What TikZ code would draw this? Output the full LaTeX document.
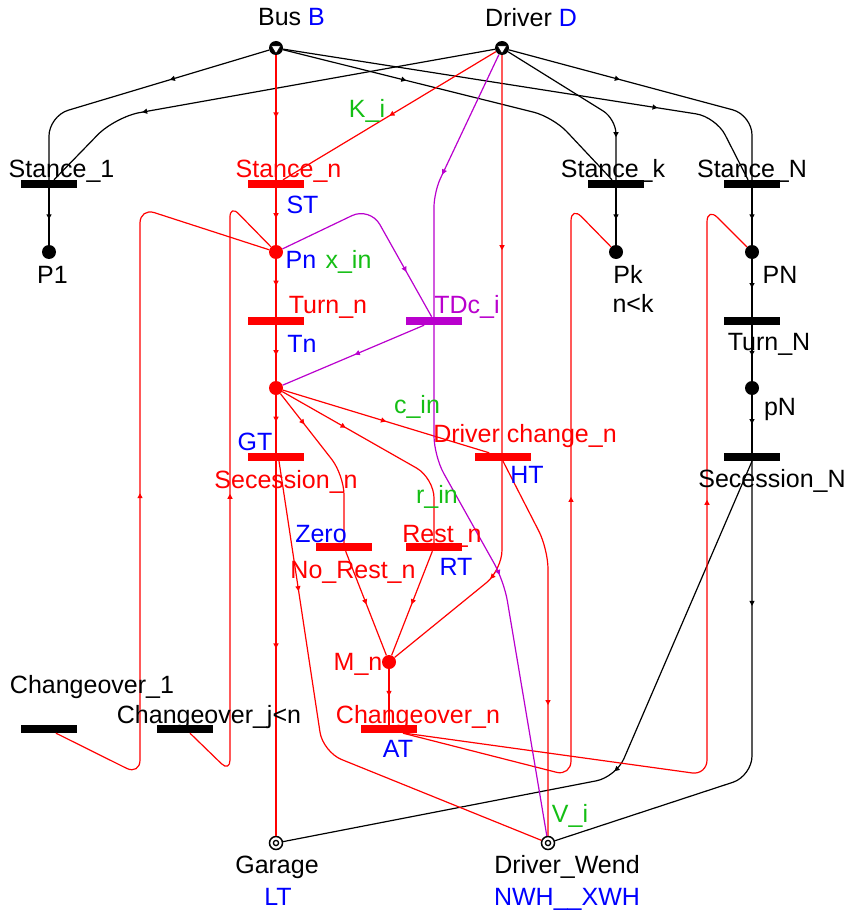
\documentclass[tikz,border=0pt]{standalone}
\usepackage{fontspec}
\setmainfont{Liberation Sans}
\usetikzlibrary{arrows.meta,decorations.markings,calc}
\definecolor{pnred}{RGB}{255,0,0}
\definecolor{pnblue}{RGB}{0,0,255}
\definecolor{pngreen}{RGB}{20,190,20}
\definecolor{pnpurple}{RGB}{185,0,205}
\begin{document}
\begin{tikzpicture}[x=1pt,y=-1pt,
  font=\fontsize{25}{30}\selectfont,
  pnbar/.style={rectangle,inner sep=0pt,minimum width=56pt,minimum height=8pt,fill=black},
  pnplace/.style={circle,inner sep=0pt,minimum size=14pt,fill=black},
  pnsrc/.style={circle,inner sep=0pt,minimum size=14pt,fill=black},
  pnsink/.style={circle,inner sep=0pt,minimum size=13pt,draw=black,line width=1.5pt,fill=white},
  pnarc/.style={line width=1.2pt},
  amk/.style={postaction={decorate},decoration={markings,mark=at position #1 with {\arrow{Triangle[length=5pt,width=5pt]}}}},
  amkk/.style 2 args={postaction={decorate},decoration={markings,mark=at position #1 with {\arrow{Triangle[length=5pt,width=5pt]}},mark=at position #2 with {\arrow{Triangle[length=5pt,width=5pt]}}}},
  lbl/.style={anchor=base,inner sep=0pt},
]
\useasboundingbox (0,0) rectangle (852,912);

% source places
\node[pnsrc] (B) at (276,48) {};
\node[pnsrc] (D) at (502,48) {};
\foreach \s in {B,D}{
  \fill[white,draw=black,line width=0.6pt] ($(\s)+(-4.8,-2.2)$) -- ($(\s)+(4.8,-2.2)$) -- ($(\s)+(0,5.6)$) -- cycle;
}
% sink places
\node[pnsink] (Gar) at (276,843) {};
\node[pnsink] (DW) at (548,843) {};
\draw[line width=1.3pt] (Gar.center) circle[radius=2.6];
\draw[line width=1.3pt] (DW.center) circle[radius=2.6];

% transitions
\node[pnbar] (S1) at (49,184) {};
\node[pnbar,fill=pnred] (Sn) at (276,184) {};
\node[pnbar] (Sk) at (616,184) {};
\node[pnbar] (SN) at (752,184) {};
\node[pnbar,fill=pnred] (Tn) at (276,321) {};
\node[pnbar,fill=pnpurple] (TDc) at (434,321) {};
\node[pnbar] (TN) at (752,321) {};
\node[pnbar,fill=pnred] (GT) at (276,457) {};
\node[pnbar,fill=pnred] (HT) at (503,457) {};
\node[pnbar] (SecN) at (752,457) {};
\node[pnbar,fill=pnred] (NR) at (344,547) {};
\node[pnbar,fill=pnred] (RT) at (434,547) {};
\node[pnbar,fill=pnred] (AT) at (389,729) {};
\node[pnbar] (C1) at (49,729) {};
\node[pnbar] (Cj) at (185,729) {};

% places
\node[pnplace] (P1) at (49,252) {};
\node[pnplace,fill=pnred] (Pn) at (276,252) {};
\node[pnplace] (Pk) at (616,252) {};
\node[pnplace] (PN) at (752,252) {};
\node[pnplace,fill=pnred] (Cn) at (276,388) {};
\node[pnplace] (pN) at (752,388) {};
\node[pnplace,fill=pnred] (Mn) at (389,662) {};

% black arcs
\draw[pnarc,amk=0.36,rounded corners=20pt] (B) -- (49,116) -- (S1);
\draw[pnarc,amk=0.76,rounded corners=25pt] (D) -- (115,117) -- ([xshift=5pt]S1.north);
\draw[pnarc,amk=0.35,rounded corners=20pt] (B) -- (553,117) -- ([xshift=-4pt]Sk.north);
\draw[pnarc,amk=0.75,rounded corners=20pt] (B) -- (716,117) -- ([xshift=-4pt]SN.north);
\draw[pnarc,amk=0.77,rounded corners=15pt] (D) -- (616,119) -- (Sk);
\draw[pnarc,amk=0.37,rounded corners=20pt] (D) -- (752,115) -- (SN);
\draw[pnarc,amk=0.55] (S1) -- (P1);
\draw[pnarc,amk=0.55] (Sk) -- (Pk);
\draw[pnarc,amk=0.55] (SN) -- (PN);
\draw[pnarc,amk=0.5] (PN) -- (TN);
\draw[pnarc,amk=0.55] (TN) -- (pN);
\draw[pnarc,amk=0.5] (pN) -- (SecN);
\draw[pnarc,amk=0.28,rounded corners=20pt] (SecN) -- (752,776) -- (DW);
\draw[pnarc,amk=0.5,rounded corners=20pt] (SecN.south) -- (616,777) -- (Gar);

% red arcs
\begin{scope}[pnred]
\draw[pnarc,amk=0.5] (B) -- (Sn);
\draw[pnarc,amk=0.5] (D) -- ([xshift=7pt]Sn.north);
\draw[pnarc,amk=0.53] (Sn) -- (Pn);
\draw[pnarc,amk=0.46] (Pn) -- (Tn);
\draw[pnarc,amk=0.54] (Tn) -- (Cn);
\draw[pnarc,amk=0.46] (Cn) -- (GT);
\draw[pnarc,amk=0.5] (GT) -- (Gar);
\draw[pnarc,amkk={0.30}{0.81},rounded corners=20pt] (D) -- (502,570) -- (Mn);
\draw[pnarc,amk=0.5] (Cn) -- (HT);
\draw[pnarc,amk=0.31,rounded corners=20pt] (Cn) -- (434,478) -- (RT);
\draw[pnarc,amk=0.23,rounded corners=20pt] (Cn) -- (344,475) -- (NR);
\draw[pnarc,amk=0.25,rounded corners=20pt] ([xshift=3pt]GT.south) -- (323,752) -- (DW);
\draw[pnarc,amk=0.51] (NR) -- (Mn);
\draw[pnarc,amk=0.51] (RT) -- (Mn);
\draw[pnarc,amk=0.66,rounded corners=20pt] (HT.south) -- (548,549) -- (DW);
\draw[pnarc,amk=0.48] (Mn) -- (AT);
\draw[pnarc,amk=0.57,rounded corners=15pt] ([xshift=14pt]AT.south) -- (571,776) -- (571,206) -- (Pk);
\draw[pnarc,amk=0.63,rounded corners=15pt] ([xshift=16pt]AT.south) -- (707,775) -- (707,207) -- (PN);
\draw[pnarc,amk=0.47,rounded corners=15pt] ([xshift=7pt]C1.south) -- (140,775) -- (140,208) -- (Pn);
\draw[pnarc,amk=0.49,rounded corners=12pt] ([xshift=5pt]Cj.south) -- (230,772) -- (230,205) -- (Pn);
\end{scope}

% purple arcs
\begin{scope}[pnpurple]
\draw[pnarc,amk=0.48,rounded corners=15pt] (D) -- (434,192) -- (TDc);
\draw[pnarc,amk=0.76,rounded corners=20pt] (Pn) -- (370,207) -- (TDc);
\draw[pnarc,amk=0.49] (TDc) -- (Cn);
\draw[pnarc,amk=0.5,rounded corners=20pt] (TDc.south) -- (434,456) -- (504,581) -- (DW);
\end{scope}

% labels
\node[lbl] (lB) at (291.5,26) {Bus \textcolor{pnblue}{B}};
\node[lbl] (lD) at (531,27) {Driver \textcolor{pnblue}{D}};
\node[lbl] (lS1) at (61.5,178) {Stance\_1};
\node[lbl,pnred] (lSn) at (288.5,178) {Stance\_n};
\node[lbl,pnblue] (lST) at (302.5,213) {ST};
\node[lbl] (lSk) at (613,178) {Stance\_k};
\node[lbl] (lSN) at (752,178) {Stance\_N};
\node[lbl,pngreen] (lKi) at (367,118) {K\_i};
\node[lbl] (lP1) at (52.5,283) {P1};
\node[lbl,pnblue] (lPn) at (301,268) {Pn};
\node[lbl,pngreen] (lxin) at (348.5,268) {x\_in};
\node[lbl] (lPk) at (628,283) {Pk};
\node[lbl] (lnk) at (633,312) {n<k};
\node[lbl] (lPN) at (780,283) {PN};
\node[lbl,pnred] (lTurnn) at (328,313) {Turn\_n};
\node[lbl,pnblue] (lTn) at (302,352) {Tn};
\node[lbl,pnpurple] (lTDc) at (467,313) {TDc\_i};
\node[lbl] (lTurnN) at (769,350) {Turn\_N};
\node[lbl] (lpN) at (780,415) {pN};
\node[lbl,pngreen] (lcin) at (417,413) {c\_in};
\node[lbl,pnred] (lDc) at (525,442) {Driver change\_n};
\node[lbl,pnblue] (lHT) at (527,483) {HT};
\node[lbl,pnblue] (lGT) at (255,450) {GT};
\node[lbl,pnred] (lSecn) at (286,488) {Secession\_n};
\node[lbl] (lSecN) at (772,487) {Secession\_N};
\node[lbl,pngreen] (lrin) at (437,503) {r\_in};
\node[lbl,pnblue] (lZero) at (321,542) {Zero};
\node[lbl,pnred] (lRest) at (442,542) {Rest\_n};
\node[lbl,pnred] (lNoRest) at (353,578) {No\_Rest\_n};
\node[lbl,pnblue] (lRT) at (456,575) {RT};
\node[lbl,pnred] (lMn) at (358,670) {M\_n};
\node[lbl,pnred] (lCn) at (418,723) {Changeover\_n};
\node[lbl,pnblue] (lAT) at (398,757) {AT};
\node[lbl] (lC1) at (92,693) {Changeover\_1};
\node[lbl] (lCj) at (209,723) {Changeover\_j<n};
\node[lbl] (lGar) at (277,873) {Garage};
\node[lbl,pnblue] (lLT) at (278,905) {LT};
\node[lbl] (lDW) at (567,873) {Driver\_Wend};
\node[lbl,pnblue] (lNWH) at (567,905) {NWH\_\_XWH};
\node[lbl,pngreen] (lVi) at (570,822) {V\_i};
\end{tikzpicture}
\end{document}
